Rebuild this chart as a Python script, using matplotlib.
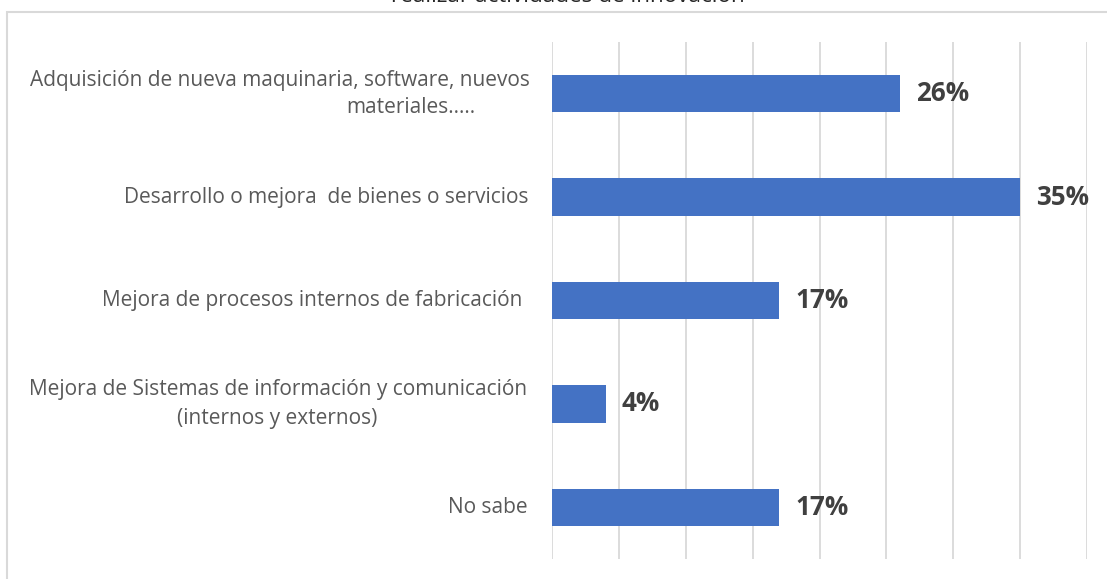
import matplotlib
matplotlib.use("Agg")
import matplotlib.pyplot as plt
from matplotlib.patches import Rectangle
from matplotlib.transforms import blended_transform_factory

categories = [
    "Adquisición de nueva maquinaria, software, nuevos\nmateriales.....",
    "Desarrollo o mejora  de bienes o servicios",
    "Mejora de procesos internos de fabricación ",
    "Mejora de Sistemas de información y comunicación\n(internos y externos)",
    "No sabe",
]
values = [26, 35, 17, 4, 17]
value_labels = ["26%", "35%", "17%", "4%", "17%"]
title = "realizar actividades de innovación"

FONT = "Open Sans"
BAR_COLOR = "#4472C4"
LABEL_COLOR = "#595959"
VALUE_COLOR = "#404040"
GRID_COLOR = "#D9D9D9"
LABEL_SIZE = 15
VALUE_SIZE = 18.7

W, H = 1107, 579
fig = plt.figure(figsize=(W / 100, H / 100), dpi=100)
fig.patch.set_facecolor("white")

# chart area frame (extends past the right and bottom edges)
fig.patches.append(Rectangle((7 / W, -0.1), 1.2, 1 - 12 / H + 0.1,
                             transform=fig.transFigure, fill=False,
                             edgecolor="#D9D9D9", linewidth=1.5))

fig.text(568 / W, 1 - 2 / H, title, ha="center", va="baseline",
         fontsize=16.2, color="#262626", family=FONT)

ax = fig.add_axes([552 / W, 1 - 559 / H, (1087 - 552) / W, (559 - 42) / H])
ypos = list(range(len(categories)))
ax.barh(ypos, values, height=0.36, color=BAR_COLOR, zorder=3)
ax.set_xlim(0, 40)
ax.set_ylim(len(categories) - 0.5, -0.5)
ax.set_xticks(range(0, 41, 5))
ax.xaxis.grid(True, color=GRID_COLOR, linewidth=1.3, zorder=0)
ax.tick_params(axis="both", length=0, labelbottom=False, labelleft=False)
for s in ax.spines.values():
    s.set_visible(False)
ax.set_facecolor("none")

for y, v, lab in zip(ypos, values, value_labels):
    ax.text(v + 1.2, y, lab, ha="left", va="center", fontsize=VALUE_SIZE,
            fontweight="bold", color=VALUE_COLOR, family=FONT)

# category labels, right aligned against the plot with centred lines
tr = blended_transform_factory(fig.transFigure, ax.transData)
kw = dict(transform=tr, va="center", fontsize=LABEL_SIZE,
          color=LABEL_COLOR, family=FONT)
for y, cat in zip(ypos, categories):
    lines = cat.split("\n")
    if y == 0:
        ax.text(530 / W, y - 0.13, lines[0], ha="right", **kw)
        ax.text(475 / W, y + 0.13, lines[1], ha="right", **kw)
    elif len(lines) == 2:
        ax.text(527 / W, y - 0.14, lines[0], ha="right", **kw)
        ax.text(277 / W, y + 0.14, lines[1], ha="center", **kw)
    else:
        ax.text(528 / W, y, cat, ha="right", **kw)

fig.savefig("out.png", dpi=100, facecolor="white")
